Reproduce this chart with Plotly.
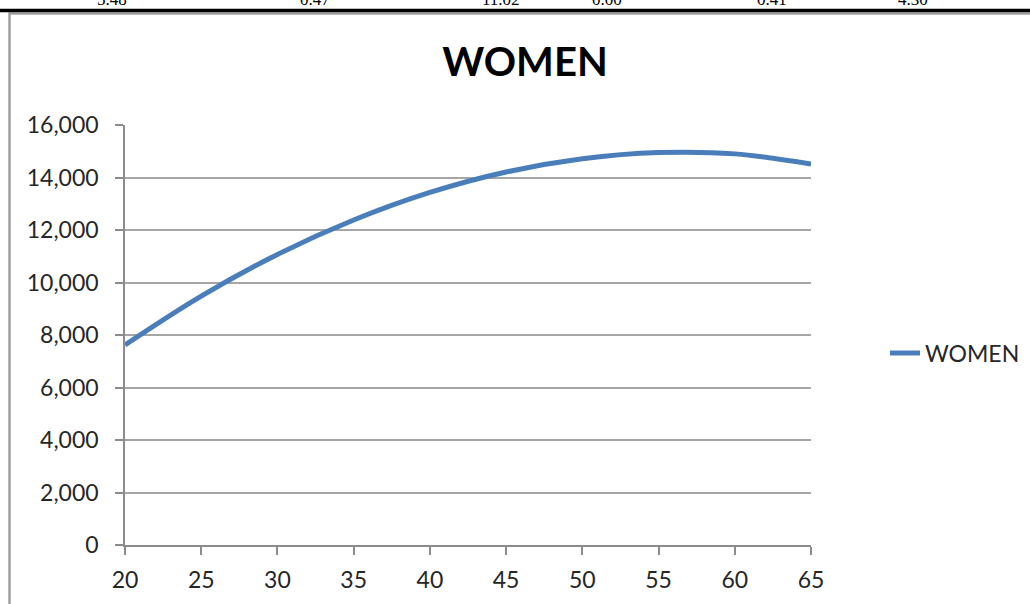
import plotly.graph_objects as go

# ---- data ----
age = [20, 25, 30, 35, 40, 45, 50, 55, 60, 65]
women = [7620, 9480, 11070, 12380, 13430, 14210, 14716, 14950, 14900, 14510]
series_name = "WOMEN"
title_text = "WOMEN"
y_ticks = [0, 2000, 4000, 6000, 8000, 10000, 12000, 14000, 16000]
x_ticks = [20, 25, 30, 35, 40, 45, 50, 55, 60, 65]
top_row_values = ["5.48", "0.47", "11.02", "0.00", "0.41", "4.30"]
top_row_xpix = [112, 315, 501, 607, 772, 913]

W, H = 1030, 604
L, R, T, B = 125, 811, 125, 545


def px(x):
    return (x - L) / (R - L)


def py(y):
    return (B - y) / (B - T)


FONT = "Lato, 'Open Sans', sans-serif"
GRID = "#a6a6a6"
AXIS = "#8c8c8c"

fig = go.Figure()
fig.add_trace(go.Scatter(
    x=age, y=women, name=series_name, mode="lines",
    line=dict(color="#4a7ebb", width=5, shape="spline", smoothing=1.0),
))

shapes = [
    # thick black rule at top of page
    dict(type="line", xref="paper", yref="paper", x0=px(-5), x1=px(W + 5),
         y0=py(10.5), y1=py(10.5), line=dict(color="#000000", width=3.5)),
    # chart frame
    dict(type="rect", xref="paper", yref="paper", x0=px(9.5), x1=px(W + 20),
         y0=py(13.5), y1=py(H + 20), line=dict(color="#a0a0a0", width=2.5),
         fillcolor="rgba(0,0,0,0)", layer="below"),
]

annotations = []
for v, xp in zip(top_row_values, top_row_xpix):
    annotations.append(dict(
        text=v, xref="paper", yref="paper", x=px(xp), y=py(11),
        xanchor="center", yanchor="bottom", showarrow=False,
        font=dict(family="'Liberation Serif', serif", size=17, color="#000"),
    ))

fig.update_layout(
    width=W, height=H,
    margin=dict(l=L, r=W - R, t=T, b=H - B, pad=0, autoexpand=False),
    paper_bgcolor="white", plot_bgcolor="white",
    font=dict(family=FONT, color="#262626"),
    title=dict(text=title_text, x=525 / W, xanchor="center", xref="container",
               y=1 - 62 / H, yanchor="middle", yref="container",
               font=dict(family=FONT, size=40, color="#000", weight="bold")),
    showlegend=True,
    legend=dict(x=px(885), xanchor="left", y=py(353), yanchor="middle",
                font=dict(family=FONT, size=23, color="#262626"),
                bgcolor="rgba(0,0,0,0)", itemwidth=30),
    shapes=shapes,
    annotations=annotations,
)

fig.update_xaxes(
    range=[20, 65], tickmode="array", tickvals=x_ticks,
    ticktext=[str(t) for t in x_ticks],
    showgrid=False, zeroline=False,
    showline=True, linecolor=AXIS, linewidth=1.5,
    ticks="outside", ticklen=8, tickwidth=1.5, tickcolor=AXIS,
    tickfont=dict(family=FONT, size=23, color="#262626"),
    ticklabelstandoff=6,
)
fig.update_yaxes(
    range=[0, 16000], tickmode="array", tickvals=y_ticks,
    ticktext=[f"{t:,}" for t in y_ticks],
    showgrid=True, gridcolor=GRID, gridwidth=1.5, zeroline=False,
    showline=True, linecolor=AXIS, linewidth=1.5,
    ticks="outside", ticklen=8, tickwidth=1.5, tickcolor=AXIS,
    tickfont=dict(family=FONT, size=23, color="#262626"),
    ticklabelstandoff=12,
)

fig.write_html(
    "out.html",
    config={"displayModeBar": False},
    post_script="document.body.style.margin='0';document.body.style.overflow='hidden';",
)
